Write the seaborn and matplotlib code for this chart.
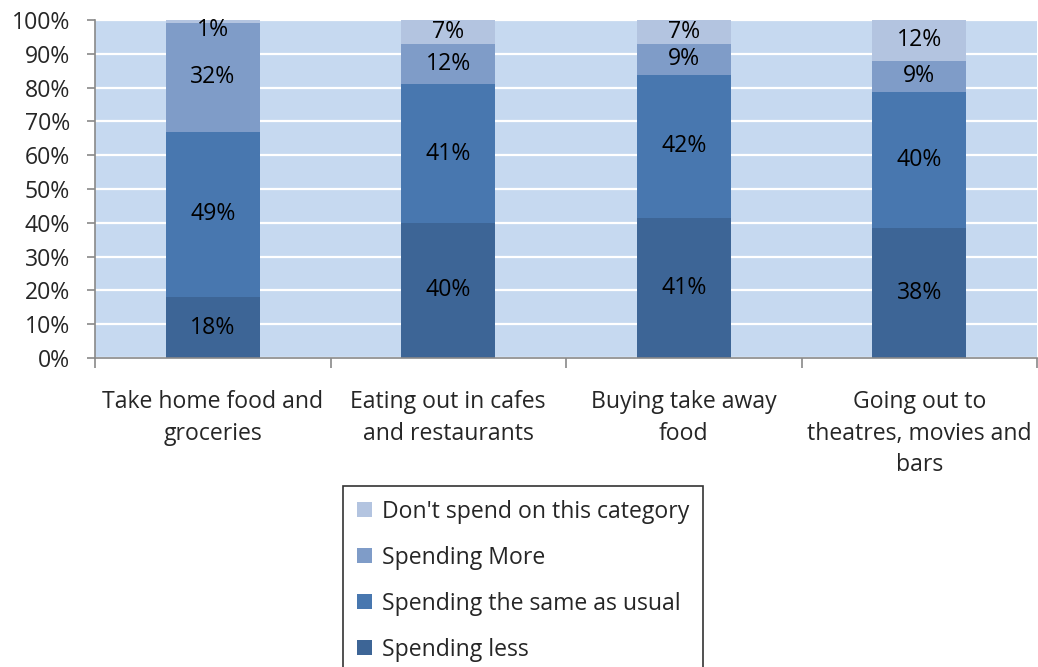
import numpy as np
import pandas as pd
import matplotlib
matplotlib.use("Agg")
import matplotlib.pyplot as plt
import seaborn as sns
from matplotlib.patches import Patch
from matplotlib.ticker import FixedLocator

categories = [
    "Take home food and\ngroceries",
    "Eating out in cafes\nand restaurants",
    "Buying take away\nfood",
    "Going out to\ntheatres, movies and\nbars",
]
series_names = [
    "Spending less",
    "Spending the same as usual",
    "Spending More",
    "Don't spend on this category",
]
spending_less = [18, 40, 41, 38]
spending_same = [49, 41, 42, 40]
spending_more = [32, 12, 9, 9]
dont_spend = [1, 7, 7, 12]
colors = ["#3D6596", "#4877AF", "#7F9CC8", "#B3C4E0"]
yticks = [0, 10, 20, 30, 40, 50, 60, 70, 80, 90, 100]

sns.set_theme(style="white")
plt.rcParams["font.family"] = ["Open Sans", "DejaVu Sans"]
FS = 16.6

values = np.array([spending_less, spending_same, spending_more, dont_spend], dtype=float)
totals = values.sum(axis=0)
shares = values / totals * 100  # 100% stacked
cum = np.cumsum(shares, axis=0)

fig = plt.figure(figsize=(10.38, 6.67), dpi=100)
ax = fig.add_axes([95 / 1038, 1 - 358 / 667, (1037 - 95) / 1038, (358 - 20) / 667])
ax.set_facecolor("#C6D9F0")

# draw stacked bars from the top layer down so each lower segment overlays the one above
for i in range(len(series_names) - 1, -1, -1):
    df = pd.DataFrame({"cat": categories, "val": cum[i]})
    sns.barplot(data=df, x="cat", y="val", color=colors[i], saturation=1,
                width=0.4, ax=ax, linewidth=0, zorder=2)

# value labels centred in each segment
for i in range(len(series_names)):
    for j in range(len(categories)):
        lo = cum[i - 1][j] if i > 0 else 0
        mid = (lo + cum[i][j]) / 2
        if values[i][j] <= 2:
            mid = cum[i][j] - 3.0
        ax.text(j, mid, f"{int(values[i][j])}%", ha="center", va="center",
                fontsize=FS, color="black", zorder=5)

ax.set_ylim(0, 100)
ax.set_xlim(-0.5, len(categories) - 0.5)
ax.set_yticks(yticks)
ax.set_yticklabels([f"{t}%" for t in yticks], fontsize=FS)
ax.yaxis.grid(True, color="white", linewidth=1.6, zorder=1)
ax.set_axisbelow(True)
ax.set_xlabel("")
ax.set_ylabel("")

ax.set_xticks(range(len(categories)))
ax.set_xticklabels(categories, fontsize=FS, linespacing=1.42)
ax.xaxis.set_minor_locator(FixedLocator(np.arange(-0.5, len(categories), 1.0)))
ax.tick_params(axis="x", which="major", length=0, pad=23)
ax.tick_params(axis="x", which="minor", length=7, width=1.2, color="#898989", direction="out", bottom=True)
ax.tick_params(axis="y", which="major", length=6, width=1.2, color="#898989", direction="out", left=True, pad=12)

for side in ["top", "right"]:
    ax.spines[side].set_visible(False)
for side in ["left", "bottom"]:
    ax.spines[side].set_color("#898989")
    ax.spines[side].set_linewidth(1.2)

handles = [Patch(facecolor=colors[i], edgecolor="none") for i in range(len(series_names) - 1, -1, -1)]
labels = [series_names[i] for i in range(len(series_names) - 1, -1, -1)]
leg = fig.legend(handles, labels, loc="upper left", bbox_to_anchor=(343 / 1038, 1 - 486 / 667),
                 fontsize=FS, frameon=True, fancybox=False, handlelength=0.65, handleheight=0.65,
                 handletextpad=0.45, labelspacing=0.95, borderpad=0.6, borderaxespad=0)
leg.get_frame().set_edgecolor("black")
leg.get_frame().set_linewidth(1.2)

fig.savefig("out.png", dpi=100)
